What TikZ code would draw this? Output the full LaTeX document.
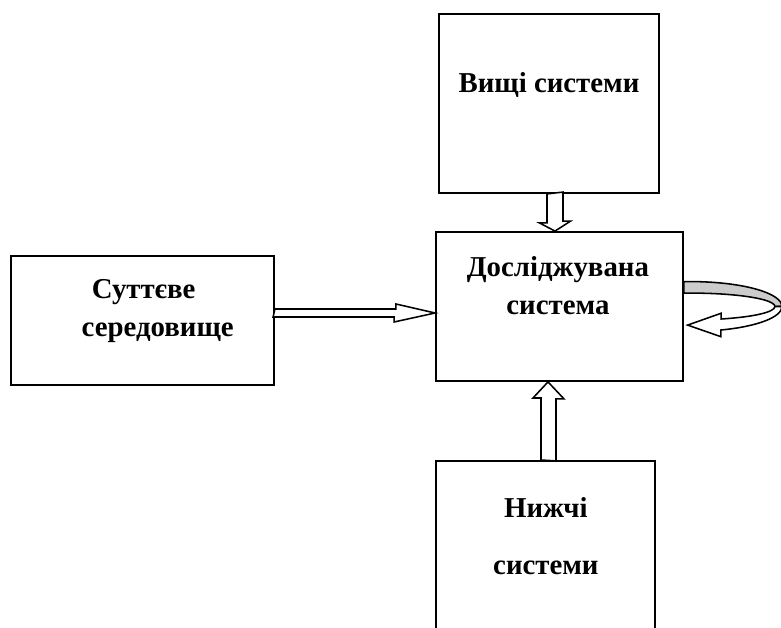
\documentclass[tikz,border=0pt]{standalone}
\usepackage{fontspec}
\setmainfont{Liberation Serif}
\usepackage{tikz}
\usetikzlibrary{positioning, calc}

\begin{document}
\begin{tikzpicture}[font=\fontsize{20.5}{27}\selectfont\bfseries,
        box/.style={draw=black, line width=1.3pt, inner sep=0pt},
        caption/.style={align=center, inner sep=0pt},
        blockarrow/.style={draw=black, line width=1.1pt, fill=white, line join=miter}]
        % Page frame
        \clip (0,0) rectangle (19.525,15.675);

        % Boxes
        \node[box, minimum width=5.5cm, minimum height=4.475cm] (higher) at (13.725,13.0875) {};
        \node[box, minimum width=6.175cm, minimum height=3.725cm] (studied) at (13.9875,8.0125) {};
        \node[box, minimum width=6.575cm, minimum height=3.225cm] (environment) at (3.5625,7.6625) {};
        \node[box, anchor=north, minimum width=5.475cm, minimum height=5cm] (lower) at (13.6375,4.175) {};

        % Texts
        \node[caption] (higherlabel) at ($(higher.center)+(0,0.45)$) {Вищі системи};
        \node[caption] (studiedlabel) at ($(studied.center)+(-0.04,0.51)$) {Досліджувана\\система};
        \node[caption] (environmentlabel) at ($(environment.center)+(0.03,0.23)$) {Суттєве\\\hspace*{0.7cm}середовище};
        \node[caption] (lowerlabel) at ($(lower.north)+(0.01,-1.9)$) {Нижчі\\[14pt]системи};

        % Block arrows
        \draw[blockarrow] ($(higher.south)+(-0.05,0)$) -- ++(0,-0.725) -- ++(-0.19,0)
            -- ($(studied.north)+(-0.1125,0)$) -- ++(0.39,0.25) -- ++(-0.19,0) -- ++(0,0.725) -- cycle;
        \draw[blockarrow] ($(environment.east)+(0,0.2875)$) -- ++(3.025,0) -- ++(0,0.125)
            -- ($(studied.west)+(0,-0.1625)$) -- ++(-1.025,-0.225) -- ++(0,0.125) -- ++(-3.025,0) -- cycle;
        \draw[blockarrow] ($(lower.north)+(-0.1125,0)$) -- ++(0,1.55) -- ++(-0.2,0)
            -- ($(studied.south)+(-0.2875,0)$) -- ++(0.4,-0.425) -- ++(-0.2,0) -- ++(0,-1.55) -- cycle;

        % Loop back into the system
        \coordinate (loopc) at ($(studied.east)+(0.175,0)$);
        \draw[blockarrow, fill=gray!40] ($(loopc)+(94.4:2.275cm and 0.6225cm)$)
            arc[start angle=94.4, end angle=0, x radius=2.275, y radius=0.6225]
            -- ($(loopc)+(0:2.1cm and 0.335cm)$)
            arc[start angle=0, end angle=94.8, x radius=2.1, y radius=0.335] -- cycle;
        \draw[blockarrow] ($(loopc)+(0:2.1cm and 0.335cm)$)
            arc[start angle=0, end angle=-69, x radius=2.1, y radius=0.335] -- ++(0,0.143)
            -- ($(loopc)+(-0.083,-0.465)$) -- ($(loopc)+(0.75,-0.755)$)
            -- ($(loopc)+(-70.8:2.275cm and 0.6225cm)$)
            arc[start angle=-70.8, end angle=0, x radius=2.275, y radius=0.6225] -- cycle;
    \end{tikzpicture}
\end{document}
